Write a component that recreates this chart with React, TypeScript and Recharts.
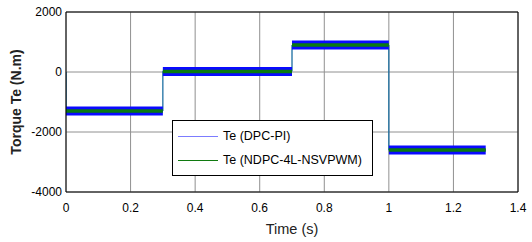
import React from 'react';
import {
  LineChart,
  Line,
  XAxis,
  YAxis,
  CartesianGrid,
  ReferenceLine,
  Legend,
} from 'recharts';

// switching instants of the torque reference (s)
const switchTimes = [0, 0.3, 0.7, 1.0, 1.3];
// torque level held between two switching instants (N.m)
const dpcTorque = [-1300, 20, 900, -2600];
const ndpcTorque = [-1300, 20, 900, -2600];
const initialTorque = 0;

const xTicks = [0, 0.2, 0.4, 0.6, 0.8, 1, 1.2, 1.4];
const yTicks = [-4000, -2000, 0, 2000];

const seriesNames = ['Te (DPC-PI)', 'Te (NDPC-4L-NSVPWM)'];
const legendColors = ['#7c7cff', '#107a10'];

// full step trace including the vertical jumps
function buildSteps(levels: number[]) {
  const pts: { t: number; v: number }[] = [{ t: switchTimes[0], v: initialTorque }];
  levels.forEach((v, i) => {
    pts.push({ t: switchTimes[i], v });
    pts.push({ t: switchTimes[i + 1], v });
  });
  return pts;
}

// horizontal plateaus only, broken by nulls (drawn thick for the ripple band)
function buildBands(levels: number[]) {
  const pts: { t: number; v: number | null }[] = [];
  levels.forEach((v, i) => {
    pts.push({ t: switchTimes[i], v });
    pts.push({ t: switchTimes[i + 1], v });
    pts.push({ t: switchTimes[i + 1], v: null });
  });
  return pts;
}

const dpcSteps = buildSteps(dpcTorque);
const ndpcSteps = buildSteps(ndpcTorque);
const dpcBands = buildBands(dpcTorque);
const ndpcBands = buildBands(ndpcTorque);

const BoxLegend = () => (
  <div
    style={{
      width: 199,
      height: 54,
      border: '1px solid #000',
      background: '#fff',
      fontSize: 12.5,
      color: '#000',
      boxSizing: 'content-box',
    }}
  >
    {seriesNames.map((name, i) => (
      <div
        key={name}
        style={{ display: 'flex', alignItems: 'center', height: 24, marginTop: i === 0 ? 3 : 0, paddingLeft: 5 }}
      >
        <div style={{ width: 40, height: 0, borderTop: `1.5px solid ${legendColors[i]}`, marginRight: 5 }} />
        <span>{name}</span>
      </div>
    ))}
  </div>
);

const YLabel = ({ viewBox }: any) => {
  const cy = viewBox.y + viewBox.height / 2;
  return (
    <text
      x={16}
      y={cy}
      transform={`rotate(-90 16 ${cy})`}
      textAnchor="middle"
      dominantBaseline="central"
      fontSize={14}
      fontWeight="bold"
      fill="#222"
    >
      Torque Te (N.m)
    </text>
  );
};

const XLabel = ({ viewBox }: any) => (
  <text x={viewBox.x + viewBox.width / 2} y={234} textAnchor="middle" fontSize={14.5} fill="#222">
    Time (s)
  </text>
);

export default function App() {
  return (
    <div
      style={{
        position: 'absolute',
        left: 0,
        top: 0,
        width: 532,
        height: 242,
        background: '#fff',
        fontFamily: '"Liberation Sans", Arial, sans-serif',
      }}
    >
      <LineChart width={532} height={242} margin={{ top: 12, right: 14, bottom: 0, left: 0 }}>
        <CartesianGrid stroke="#909090" />
        <XAxis
          type="number"
          dataKey="t"
          domain={[0, 1.4]}
          ticks={xTicks}
          allowDataOverflow
          height={50}
          tickLine={false}
          tickSize={4}
          tickMargin={7}
          axisLine={{ stroke: '#000' }}
          tick={{ fill: '#000', fontSize: 12 }}
          label={<XLabel />}
        />
        <YAxis
          type="number"
          domain={[-4000, 2000]}
          ticks={yTicks}
          allowDataOverflow
          width={66}
          tickLine={false}
          tickSize={4}
          tickMargin={0}
          axisLine={{ stroke: '#000' }}
          tick={{ fill: '#000', fontSize: 12 }}
          label={<YLabel />}
        />
        <ReferenceLine y={2000} stroke="#000" />
        <ReferenceLine x={1.4} stroke="#000" />
        <Line data={dpcSteps} dataKey="v" stroke="#3050c0" strokeWidth={1} dot={false} isAnimationActive={false} legendType="none" />
        <Line data={ndpcSteps} dataKey="v" stroke="#009080" strokeOpacity={0.6} strokeWidth={1} dot={false} isAnimationActive={false} legendType="none" />
        <Line data={dpcBands} dataKey="v" stroke="#0a0aff" strokeWidth={9} strokeLinecap="butt" dot={false} isAnimationActive={false} legendType="none" />
        <Line data={ndpcBands} dataKey="v" stroke="#0a7a10" strokeWidth={3.5} strokeLinecap="butt" dot={false} isAnimationActive={false} legendType="none" />
        <Legend
          layout="vertical"
          align="center"
          verticalAlign="middle"
          content={<BoxLegend />}
          wrapperStyle={{ left: 172, top: 120, width: 201, height: 56 }}
        />
      </LineChart>
    </div>
  );
}
